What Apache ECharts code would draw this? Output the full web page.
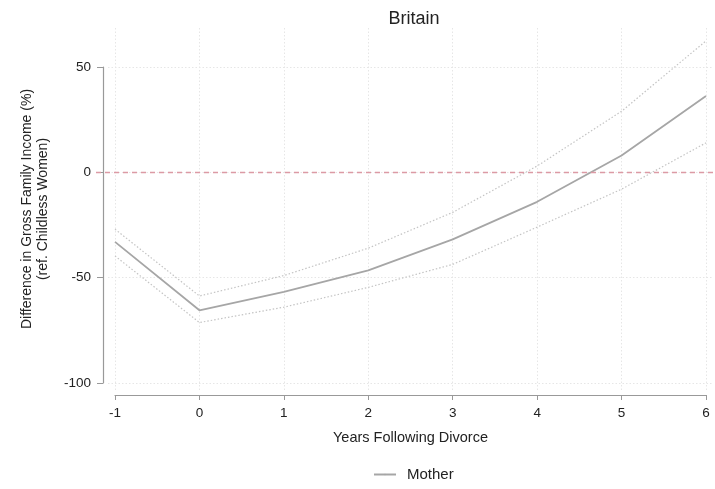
<!DOCTYPE html>
<html><head><meta charset="utf-8">
<script src="https://cdn.jsdelivr.net/npm/echarts@6/dist/echarts.min.js"></script>
<style>html,body{margin:0;padding:0;background:#fff}#c{width:715px;height:489px}</style>
</head><body><div id="c"></div>
<script>
const years = [-1, 0, 1, 2, 3, 4, 5, 6];
const mother = [-33, -65.5, -56.8, -46.5, -31.8, -14, 8, 36.2];
const upperCI = [-27, -58.7, -49, -36, -19, 3, 29, 62.4];
const lowerCI = [-39.7, -71.3, -64, -54.6, -43.7, -26, -8, 14];
const yTicks = [-100, -50, 0, 50];

const pairs = arr => years.map((x, i) => [x, arr[i]]);
const font = 'Liberation Sans, Arial, sans-serif';
const ciStyle = {color: '#c4c4c4', width: 1.2, type: [1.5, 2]};
const chart = echarts.init(document.getElementById('c'));
chart.setOption({
  animation: false,
  textStyle: {fontFamily: font},
  title: {text: 'Britain', left: 409, top: 5, textAlign: 'center',
    textStyle: {fontFamily: font, fontSize: 18, fontWeight: 'normal', color: '#222'}},
  legend: {data: ['Mother'], bottom: 2, left: 368, itemWidth: 22, itemHeight: 2,
    textStyle: {fontFamily: font, fontSize: 15, color: '#222', padding: [0, 0, 0, 6]}},
  grid: [
    {left: 115, right: 9, top: 28, bottom: 99},
    {left: 108, right: 3, top: 67, bottom: 106},
    {left: 96, right: 0, top: 67, bottom: 106}
  ],
  xAxis: [
    {type: 'value', gridIndex: 0, min: years[0], max: years[years.length - 1], interval: 1,
     offset: 5,
     axisLine: {show: true, onZero: false, lineStyle: {color: '#999', width: 1.2}},
     axisTick: {show: true, length: 5, lineStyle: {color: '#999'}},
     axisLabel: {fontSize: 13.5, color: '#222', margin: 11, fontFamily: font},
     splitLine: {show: true, lineStyle: {color: '#e6e6e6', type: [1.5, 2]}},
     name: 'Years Following Divorce', nameLocation: 'middle', nameGap: 35,
     nameTextStyle: {fontSize: 14.5, color: '#222', fontFamily: font}},
    {type: 'value', gridIndex: 1, min: 0, max: 1, show: false},
    {type: 'value', gridIndex: 2, min: 0, max: 1, show: false}
  ],
  yAxis: [
    {type: 'value', gridIndex: 0, min: -103.32, max: 68.51,
     axisLine: {show: false}, axisTick: {show: false}, axisLabel: {show: false},
     splitLine: {show: false},
     name: 'Difference in Gross Family Income (%)\n(ref. Childless Women)',
     nameLocation: 'middle', nameRotate: 90, nameGap: 64,
     nameTextStyle: {fontSize: 14, color: '#222', fontFamily: font, lineHeight: 16}},
    {type: 'value', gridIndex: 1, min: yTicks[0], max: yTicks[yTicks.length - 1], interval: 50,
     offset: 5,
     axisLine: {show: true, onZero: false, lineStyle: {color: '#999', width: 1.2}},
     axisTick: {show: true, length: 6, lineStyle: {color: '#999'}},
     axisLabel: {fontSize: 13.5, color: '#222', margin: 12, fontFamily: font},
     splitLine: {show: true, lineStyle: {color: '#e6e6e6', type: [1.5, 2]}}},
    {type: 'value', gridIndex: 2, min: yTicks[0], max: yTicks[yTicks.length - 1], show: false}
  ],
  series: [
    {name: 'zero', type: 'line', xAxisIndex: 2, yAxisIndex: 2, data: [], silent: true,
     markLine: {symbol: 'none', silent: true, label: {show: false},
       lineStyle: {color: '#dc9aa5', type: [5, 4], width: 1.3},
       data: [{yAxis: 0}]}},
    {name: 'Upper CI', type: 'line', data: pairs(upperCI), symbol: 'none', lineStyle: ciStyle, z: 3},
    {name: 'Lower CI', type: 'line', data: pairs(lowerCI), symbol: 'none', lineStyle: ciStyle, z: 3},
    {name: 'Mother', type: 'line', data: pairs(mother), symbol: 'none', color: '#a6a6a6',
     lineStyle: {color: '#a6a6a6', width: 1.8}, z: 4}
  ]
});
</script></body></html>
